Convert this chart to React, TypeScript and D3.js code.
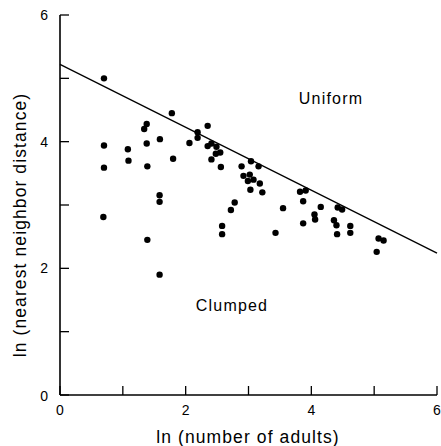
import * as d3 from 'd3';

// ln(number of adults) vs ln(nearest neighbor distance)
const adultsLn = [
  0.70, 0.70, 0.70, 0.69, 1.08, 1.09, 1.38, 1.34, 1.38, 1.39, 1.39, 1.59, 1.585, 1.585, 1.585,
  1.78, 1.80, 2.06, 2.19, 2.19, 2.35, 2.35, 2.41, 2.49, 2.48, 2.55, 2.41, 2.56, 2.58, 2.58,
  2.72, 2.78, 2.89, 3.04, 3.16, 2.92, 3.02, 2.99, 3.08, 3.18, 3.03, 3.22, 3.43, 3.55, 3.82,
  3.91, 3.87, 3.87, 4.05, 4.06, 4.15, 4.36, 4.40, 4.41, 4.42, 4.49, 4.62, 4.62, 5.07, 5.15, 5.04,
];
const distanceLn = [
  5.00, 3.94, 3.59, 2.81, 3.88, 3.70, 4.28, 4.20, 3.97, 3.61, 2.45, 4.04, 3.155, 3.05, 1.90,
  4.45, 3.73, 3.98, 4.15, 4.06, 4.25, 3.93, 3.97, 3.92, 3.81, 3.83, 3.72, 3.60, 2.67, 2.54,
  2.92, 3.04, 3.61, 3.69, 3.61, 3.46, 3.48, 3.38, 3.40, 3.34, 3.24, 3.20, 2.56, 2.95, 3.21,
  3.23, 3.06, 2.71, 2.85, 2.77, 2.97, 2.76, 2.68, 2.54, 2.96, 2.93, 2.67, 2.56, 2.47, 2.44, 2.26,
];
// boundary line (uniform distribution expectation)
const lineX = [0, 6];
const lineY = [5.22, 2.24];

const xTicks = [0, 1, 2, 3, 4, 5, 6];
const yTicks = [0, 1, 2, 3, 4, 5, 6];
const xLabels = [0, 2, 4, 6];
const yLabels = [0, 2, 4, 6];

export default function App() {
  const width = 441;
  const height = 446;
  const x = d3.scaleLinear().domain([0, 6]).range([60, 437]);
  const y = d3.scaleLinear().domain([0, 6]).range([395, 15]);
  const font = "'Liberation Sans', Arial, sans-serif";

  const line = d3.line<number>()
    .x((_, i) => x(lineX[i]))
    .y(d => y(d));

  return (
    <svg
      width={width}
      height={height}
      style={{ position: 'absolute', left: 0, top: 0, background: '#fff' }}
      fontFamily={font}
    >
      {/* axes */}
      <line x1={x(0)} x2={x(0)} y1={y(0)} y2={y(6)} stroke="#000" strokeWidth={1.6} />
      <line x1={x(0)} x2={x(6)} y1={y(0)} y2={y(0)} stroke="#000" strokeWidth={1.6} />
      {yTicks.map(t => (
        <line key={'yt' + t} x1={x(0)} x2={x(0) + 9} y1={y(t)} y2={y(t)} stroke="#000" strokeWidth={1.3} />
      ))}
      {xTicks.map(t => (
        <line key={'xt' + t} x1={x(t)} x2={x(t)} y1={y(0)} y2={y(0) - 9} stroke="#000" strokeWidth={1.3} />
      ))}
      {yLabels.map(t => (
        <text key={'yl' + t} x={48} y={y(t) + (t === 0 ? 6 : 5)} textAnchor="end" fontSize={14}>
          {t}
        </text>
      ))}
      {xLabels.map(t => (
        <text key={'xl' + t} x={x(t)} y={415} textAnchor="middle" fontSize={14}>
          {t}
        </text>
      ))}

      {/* titles */}
      <text x={248} y={443} textAnchor="middle" fontSize={17.5} letterSpacing={1.1}>
        ln (number of adults)
      </text>
      <text
        transform={`translate(26,225) rotate(-90)`}
        textAnchor="middle"
        fontSize={17.5}
        letterSpacing={1.1}
      >
        ln (nearest neighbor distance)
      </text>

      {/* boundary line */}
      <path d={line(lineY) ?? ''} fill="none" stroke="#000" strokeWidth={1.3} />

      {/* points */}
      {adultsLn.map((a, i) => (
        <circle key={i} cx={x(a)} cy={y(distanceLn[i])} r={3.2} fill="#000" />
      ))}

      <text x={331} y={104} textAnchor="middle" fontSize={16} letterSpacing={1.2}>
        Uniform
      </text>
      <text x={232} y={311} textAnchor="middle" fontSize={16} letterSpacing={1.2}>
        Clumped
      </text>
    </svg>
  );
}
